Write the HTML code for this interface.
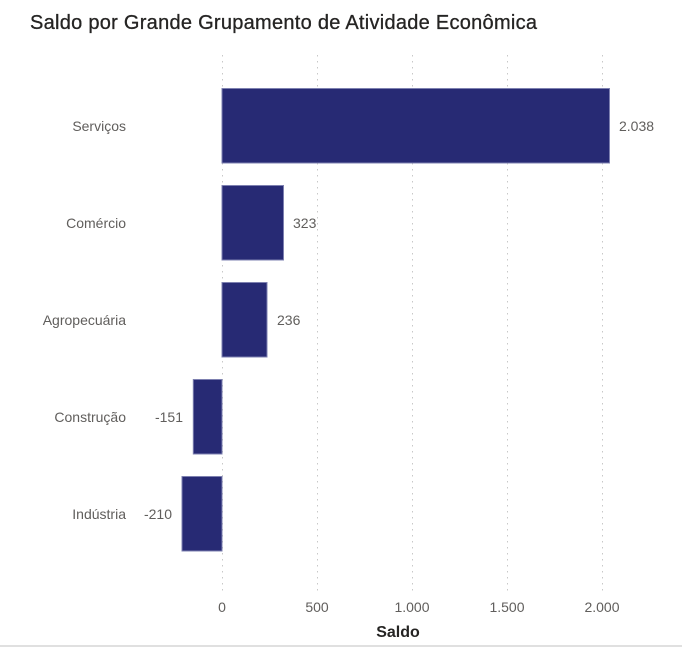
<!DOCTYPE html>
<html><head><meta charset="utf-8"><style>
html,body{margin:0;padding:0;background:#fff;}
body{width:682px;height:647px;overflow:hidden;}
</style></head><body>
<svg width="682" height="647" xmlns="http://www.w3.org/2000/svg" font-family="Liberation Sans, DejaVu Sans, sans-serif">
<text x="30" y="29" font-size="20" fill="#252423" stroke="#252423" stroke-width="0.3" textLength="507" lengthAdjust="spacing">Saldo por Grande Grupamento de Atividade Econômica</text>
<g stroke="#c8c8c8" stroke-width="1" stroke-dasharray="1.5,4.5">
<line x1="222.5" y1="55" x2="222.5" y2="594"/>
<line x1="317.5" y1="55" x2="317.5" y2="594"/>
<line x1="412.5" y1="55" x2="412.5" y2="594"/>
<line x1="507.5" y1="55" x2="507.5" y2="594"/>
<line x1="602.5" y1="55" x2="602.5" y2="594"/>
</g>
<g fill="#272a74" stroke="#7d80b0" stroke-width="1">
<rect x="222" y="88.5" width="387.5" height="74.5"/>
<rect x="222" y="185.5" width="61.5" height="74.5"/>
<rect x="222" y="282.5" width="45" height="74.5"/>
<rect x="193.3" y="379.5" width="28.7" height="74.5"/>
<rect x="182" y="476.5" width="40" height="74.5"/>
</g>
<g font-size="14" fill="#605e5c" text-anchor="end">
<text x="126" y="131">Serviços</text>
<text x="126" y="228">Comércio</text>
<text x="126" y="325">Agropecuária</text>
<text x="126" y="422">Construção</text>
<text x="126" y="519">Indústria</text>
</g>
<g font-size="14" fill="#605e5c">
<text x="619" y="131">2.038</text>
<text x="293" y="228">323</text>
<text x="277" y="325">236</text>
<text x="183" y="422" text-anchor="end">-151</text>
<text x="172" y="519" text-anchor="end">-210</text>
</g>
<g font-size="14" fill="#605e5c" text-anchor="middle">
<text x="222" y="612">0</text>
<text x="317" y="612">500</text>
<text x="412" y="612">1.000</text>
<text x="507" y="612">1.500</text>
<text x="602" y="612">2.000</text>
</g>
<text x="398" y="637" font-size="16" font-weight="bold" fill="#252423" text-anchor="middle">Saldo</text>
<line x1="0" y1="646" x2="682" y2="646" stroke="#e0e0e0" stroke-width="2"/>
</svg>
</body></html>
